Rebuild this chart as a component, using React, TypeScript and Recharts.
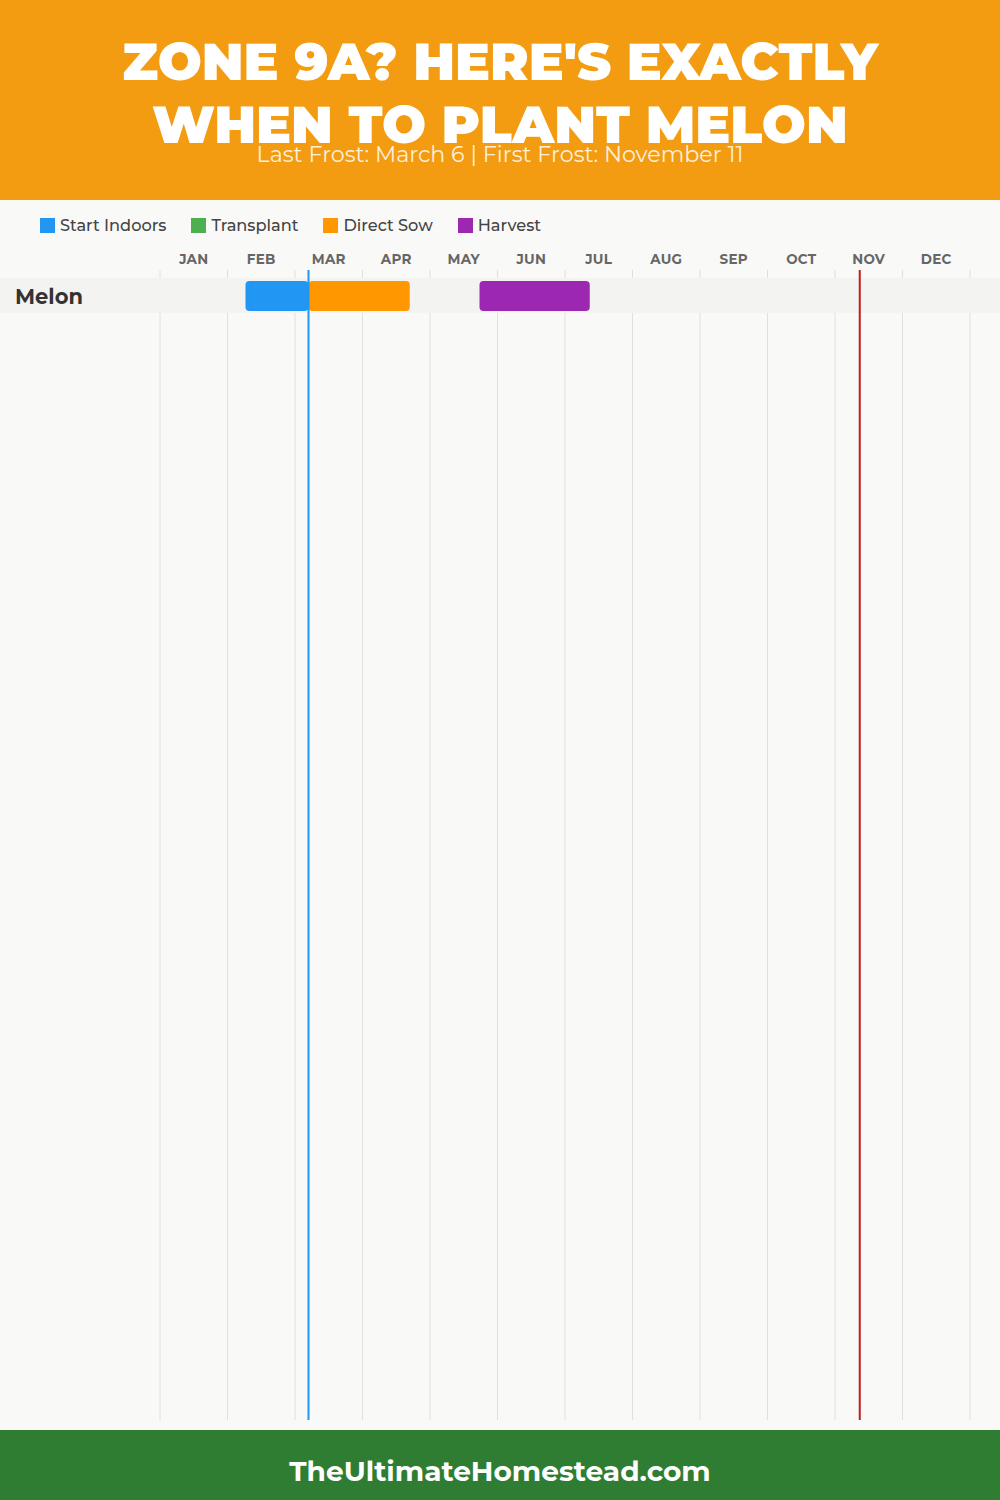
import React from 'react';
import { BarChart, Bar, XAxis, YAxis, CartesianGrid, ReferenceLine, ReferenceArea, Legend } from 'recharts';

// dates as "MM-DD"; position = month index + day / 30
const MONTHS = ['JAN', 'FEB', 'MAR', 'APR', 'MAY', 'JUN', 'JUL', 'AUG', 'SEP', 'OCT', 'NOV', 'DEC'];
const CROPS = ['Melon'];
const START_INDOORS = [['02-08', '03-06']];
const TRANSPLANT = [null];
const DIRECT_SOW = [['03-06', '04-21']];
const HARVEST = [['05-22', '07-11']];
const LAST_FROST = '03-06';
const FIRST_FROST = '11-11';

const SERIES = [
  { key: 'indoors', name: 'Start Indoors', color: '#2196F3' },
  { key: 'transplant', name: 'Transplant', color: '#4CAF50' },
  { key: 'sow', name: 'Direct Sow', color: '#FF9800' },
  { key: 'harvest', name: 'Harvest', color: '#9C27B0' },
];

const FONT = 'Montserrat, "Open Sans", sans-serif';

const toMonth = (s: string) => {
  const [m, d] = s.split('-').map(Number);
  return m - 1 + d / 30;
};
const toRange = (r: string[] | null) => (r ? r.map(toMonth) : null);

const chartData = CROPS.map((crop, i) => ({
  crop,
  indoors: toRange(START_INDOORS[i]),
  transplant: toRange(TRANSPLANT[i]),
  sow: toRange(DIRECT_SOW[i]),
  harvest: toRange(HARVEST[i]),
}));

const monthEdges = MONTHS.map((_, i) => i).concat(MONTHS.length);
const monthCenters = MONTHS.map((_, i) => i + 0.5);

// grid lines at month boundaries (x domain is fixed to 0..12)
const gridAtEdges = ({ xAxis, offset }: any) => {
  if (xAxis && typeof xAxis.scale === 'function') return monthEdges.map((m) => xAxis.scale(m));
  return monthEdges.map((m) => offset.left + (offset.width * m) / MONTHS.length);
};

function RowLabel({ y, payload }: any) {
  return (
    <text x={15} y={y} dy={8} fontSize={21} fontWeight={700} fill="#333" fontFamily={FONT}>
      {payload.value}
    </text>
  );
}

function LegendContent({ payload }: any) {
  const items = SERIES.map((s) => (payload || []).find((p: any) => p.value === s.name)).filter(Boolean);
  return (
    <div style={{ display: 'flex', gap: 25, fontFamily: FONT }}>
      {items.map((p: any) => (
        <div key={p.value} style={{ display: 'flex', alignItems: 'center' }}>
          <span style={{ width: 15, height: 15, background: p.color, marginRight: 5, display: 'inline-block' }} />
          <span style={{ fontSize: 16.2, fontWeight: 500, color: '#444', lineHeight: '20px' }}>{p.value}</span>
        </div>
      ))}
    </div>
  );
}

export default function App() {
  return (
    <div style={{ width: 1000, height: 1500, position: 'relative', background: '#f9f9f8', overflow: 'hidden' }}>
      <style>{'body{margin:0}'}</style>
      <div style={{ position: 'absolute', left: 0, top: 0, width: 1000, height: 200, background: '#F39C12' }}>
        <div
          style={{
            position: 'absolute', top: 30, left: 0, width: 1000, textAlign: 'center', color: '#fff',
            fontFamily: FONT, fontWeight: 900, fontSize: 52, lineHeight: '63px',
          }}
        >
          ZONE 9A? HERE'S EXACTLY
          <br />
          WHEN TO PLANT MELON
        </div>
        <div
          style={{
            position: 'absolute', top: 142, left: 0, width: 1000, textAlign: 'center',
            color: 'rgba(255,255,255,0.85)', fontFamily: FONT, fontSize: 22.2, lineHeight: '26px',
          }}
        >
          Last Frost: March 6 | First Frost: November 11
        </div>
      </div>

      <div style={{ position: 'absolute', left: 0, top: 200 }}>
        <BarChart
          width={1000}
          height={1230}
          data={chartData}
          layout="vertical"
          margin={{ top: 40, right: 30, bottom: 10, left: 0 }}
          barSize={30}
          barGap={-30}
        >
          <CartesianGrid
            horizontal={false}
            vertical
            stroke="#e0e0e0"
            verticalCoordinatesGenerator={gridAtEdges}
          />
          <XAxis
            type="number"
            orientation="top"
            domain={[0, 12]}
            ticks={monthCenters}
            interval={0}
            height={30}
            tickLine={false}
            axisLine={false}
            tickSize={0}
            tickMargin={6}
            tickFormatter={(v: number) => MONTHS[Math.floor(v)]}
            tick={{ fill: '#666', fontSize: 13.5, fontWeight: 700, fontFamily: FONT, letterSpacing: 0.3 }}
          />
          <YAxis
            type="category"
            dataKey="crop"
            width={160}
            tickLine={false}
            axisLine={false}
            padding={{ top: 8, bottom: 1107 }}
            tick={<RowLabel />}
          />
          <Legend
            verticalAlign="middle"
            align="center"
            layout="horizontal"
            wrapperStyle={{ top: 15, left: 40, width: 'auto' }}
            content={<LegendContent />}
          />
          <ReferenceArea
            y1="Melon"
            y2="Melon"
            ifOverflow="visible"
            shape={(p: any) => <rect x={0} y={p.y} width={1000} height={p.height} fill="#f3f3f2" />}
          />
          {SERIES.map((s) => (
            <Bar
              key={s.key}
              dataKey={s.key}
              name={s.name}
              fill={s.color}
              radius={4}
              isAnimationActive={false}
            />
          ))}
          <ReferenceLine x={toMonth(LAST_FROST)} stroke="#2196F3" strokeWidth={2} />
          <ReferenceLine x={toMonth(FIRST_FROST)} stroke="#BE1E1E" strokeWidth={2} />
        </BarChart>
      </div>

      <div
        style={{
          position: 'absolute', left: 0, top: 1430, width: 1000, height: 70, background: '#2E7D32', overflow: 'hidden',
          color: '#fff', textAlign: 'center', fontFamily: FONT, fontWeight: 700, fontSize: 28, lineHeight: '82px',
        }}
      >
        TheUltimateHomestead.com
      </div>
    </div>
  );
}
